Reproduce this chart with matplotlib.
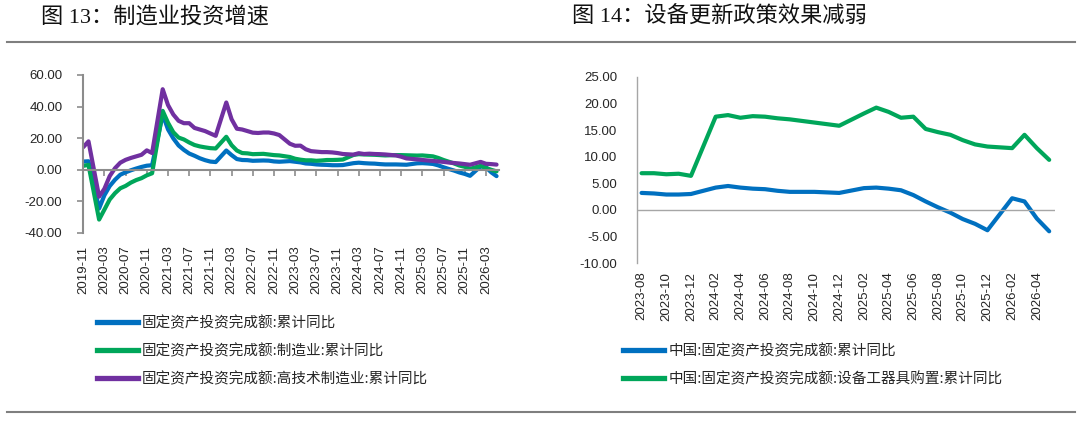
import matplotlib.pyplot as plt
from matplotlib.lines import Line2D

plt.rcParams['font.family'] = ['Liberation Sans', 'Noto Sans CJK SC']

# ---- 图13 data (cumulative YoY, %, no January figures) ----
months13 = ['2019-11', '2019-12',
            '2020-02', '2020-03', '2020-04', '2020-05', '2020-06', '2020-07', '2020-08', '2020-09', '2020-10', '2020-11', '2020-12',
            '2021-02', '2021-03', '2021-04', '2021-05', '2021-06', '2021-07', '2021-08', '2021-09', '2021-10', '2021-11', '2021-12',
            '2022-02', '2022-03', '2022-04', '2022-05', '2022-06', '2022-07', '2022-08', '2022-09', '2022-10', '2022-11', '2022-12',
            '2023-02', '2023-03', '2023-04', '2023-05', '2023-06', '2023-07', '2023-08', '2023-09', '2023-10', '2023-11', '2023-12',
            '2024-02', '2024-03', '2024-04', '2024-05', '2024-06', '2024-07', '2024-08', '2024-09', '2024-10', '2024-11', '2024-12',
            '2025-02', '2025-03', '2025-04', '2025-05', '2025-06', '2025-07', '2025-08', '2025-09', '2025-10', '2025-11', '2025-12',
            '2026-02', '2026-03', '2026-04', '2026-05']

fai = [5.2, 5.4,
       -24.5, -16.1, -10.3, -6.3, -3.1, -1.6, -0.3, 0.8, 1.8, 2.6, 2.9,
       35.0, 25.6, 19.9, 15.4, 12.6, 10.3, 8.9, 7.3, 6.1, 5.2, 4.9,
       12.2, 9.3, 6.8, 6.2, 6.1, 5.7, 5.8, 5.9, 5.8, 5.3, 5.1,
       5.5, 5.1, 4.7, 4.0, 3.8, 3.4, 3.2, 3.1, 2.9, 2.9, 3.0,
       4.2, 4.5, 4.2, 4.0, 3.9, 3.6, 3.4, 3.4, 3.4, 3.3, 3.2,
       4.1, 4.2, 4.0, 3.7, 2.8, 1.6, 0.5, -0.5, -1.7, -2.6, -3.8,
       2.2, 1.6, -1.6, -4.0]

mfg = [2.5, 3.1,
       -31.5, -25.2, -18.8, -14.8, -11.7, -10.2, -8.1, -6.5, -5.3, -3.5, -2.2,
       37.3, 29.8, 23.8, 20.4, 19.2, 17.3, 15.7, 14.8, 14.2, 13.7, 13.5,
       20.9, 15.6, 12.2, 10.6, 10.4, 9.9, 10.0, 10.1, 9.7, 9.3, 9.1,
       8.1, 7.0, 6.4, 6.0, 6.0, 5.7, 5.9, 6.2, 6.2, 6.3, 6.5,
       9.4, 9.9, 9.7, 9.6, 9.5, 9.3, 9.1, 9.2, 9.3, 9.3, 9.2,
       9.0, 9.1, 8.8, 8.5, 7.5, 6.2, 5.1, 4.0, 2.7, 1.9, 0.6,
       2.5, 1.2, 0.0, -1.0]

hitech = [14.3, 18.0,
          -17.0, -12.0, -4.0, 1.0, 4.5, 6.3, 7.5, 8.5, 9.5, 12.3, 10.6,
          51.0, 41.0, 35.0, 31.0, 29.5, 29.5, 26.5, 25.5, 24.5, 23.0, 21.5,
          42.6, 32.0, 26.0, 25.5, 24.5, 23.5, 23.3, 23.6, 23.6, 23.0, 22.0,
          16.5, 15.2, 15.3, 13.0, 11.8, 11.5, 11.2, 11.2, 11.0, 10.6, 10.0,
          9.6, 10.5, 10.0, 10.2, 10.0, 9.9, 9.7, 9.4, 9.1, 8.3, 7.2,
          6.6, 6.2, 5.9, 5.6, 5.3, 5.0, 4.6, 4.3, 4.0, 3.6, 3.2,
          5.0, 3.8, 3.6, 3.3]

labels13 = ['固定资产投资完成额:累计同比',
            '固定资产投资完成额:制造业:累计同比',
            '固定资产投资完成额:高技术制造业:累计同比']

ticks13 = ['2019-11', '2020-03', '2020-07', '2020-11', '2021-03', '2021-07', '2021-11',
           '2022-03', '2022-07', '2022-11', '2023-03', '2023-07', '2023-11', '2024-03',
           '2024-07', '2024-11', '2025-03', '2025-07', '2025-11', '2026-03']

# ---- 图14 data ----
months14 = months13[months13.index('2023-08'):]
fai14 = fai[months13.index('2023-08'):]
equip = [6.9, 6.9, 6.7, 6.8, 6.4,
         17.5, 17.8, 17.3, 17.6, 17.5, 17.2, 17.0, 16.7, 16.4, 16.1, 15.8,
         18.1, 19.2, 18.4, 17.3, 17.5, 15.2, 14.6, 14.1, 13.1, 12.3, 11.9,
         11.6, 14.1, 11.6, 9.4]

labels14 = ['中国:固定资产投资完成额:累计同比',
            '中国:固定资产投资完成额:设备工器具购置:累计同比']

ticks14 = ['2023-08', '2023-10', '2023-12', '2024-02', '2024-04', '2024-06', '2024-08',
           '2024-10', '2024-12', '2025-02', '2025-04', '2025-06', '2025-08', '2025-10',
           '2025-12', '2026-02', '2026-04']

BLUE = '#0070C0'
GREEN = '#00A65A'
PURPLE = '#7030A0'
AXC = '#8C8C8C'
TXT = '#262626'
FS = 9.5


def midx(s, y0, m0):
    y, m = map(int, s.split('-'))
    return (y - y0) * 12 + (m - m0)


fig = plt.figure(figsize=(10.8, 4.34), dpi=100)

# ---------------- left chart ----------------
ax1 = fig.add_axes([83.2 / 1080, 1 - 233 / 434, 416 / 1080, 158 / 434])
x13 = [midx(m, 2019, 11) for m in months13]
for vals, c in zip([fai, mfg, hitech], [BLUE, GREEN, PURPLE]):
    ax1.plot(x13, vals, color=c, lw=3, solid_joinstyle='round', solid_capstyle='round')
ax1.set_xlim(0, 78.5)
ax1.set_ylim(-40, 60)
yt = list(range(-40, 61, 20))
ax1.set_yticks(yt, ['%.2f' % v for v in yt])
ax1.spines['top'].set_visible(False)
ax1.spines['right'].set_visible(False)
ax1.spines['left'].set_color(AXC)
ax1.spines['left'].set_linewidth(1.5)
ax1.spines['bottom'].set_position(('data', 0))
ax1.spines['bottom'].set_color(AXC)
ax1.spines['bottom'].set_linewidth(1.5)
ax1.tick_params(axis='y', direction='out', length=4, width=1.2, color=AXC,
                pad=11, labelsize=FS, labelcolor=TXT)
t13 = [midx(t, 2019, 11) for t in ticks13]
ax1.set_xticks(t13)
ax1.tick_params(axis='x', direction='out', length=4, width=1.2, color=AXC, labelbottom=False)
sec = ax1.secondary_xaxis('bottom')
sec.set_xticks(t13, ticks13, rotation=90)
sec.tick_params(length=0, pad=9, labelsize=FS, labelcolor=TXT)
sec.spines['bottom'].set_visible(False)

# ---------------- right chart ----------------
ax2 = fig.add_axes([637 / 1080, 1 - 263.3 / 434, 418 / 1080, 186.6 / 434])
x14 = [midx(m, 2023, 8) for m in months14]
ax2.plot(x14, fai14, color=BLUE, lw=3, solid_joinstyle='round', solid_capstyle='round')
ax2.plot(x14, equip, color=GREEN, lw=3, solid_joinstyle='round', solid_capstyle='round')
ax2.axhline(0, color='#A6A6A6', lw=1)
ax2.set_xlim(-0.37, 33.47)
ax2.set_ylim(-10, 25)
yt2 = list(range(-10, 26, 5))
ax2.set_yticks(yt2, ['%.2f' % v for v in yt2])
for s in ['top', 'right', 'bottom']:
    ax2.spines[s].set_visible(False)
ax2.spines['left'].set_color('#A6A6A6')
ax2.spines['left'].set_linewidth(1)
ax2.set_xticks([midx(t, 2023, 8) for t in ticks14], ticks14, rotation=90)
ax2.tick_params(axis='both', length=0, labelsize=FS, labelcolor=TXT)
ax2.tick_params(axis='y', pad=14)
ax2.tick_params(axis='x', pad=6)

# ---------------- legends ----------------
lp = {'family': ['Noto Sans CJK SC'], 'size': 10.5}
h13 = [Line2D([], [], color=c, lw=3.8) for c in [BLUE, GREEN, PURPLE]]
fig.legend(h13, labels13, loc='center left', bbox_to_anchor=(97 / 1080, 1 - 351 / 434),
           frameon=False, borderpad=0, borderaxespad=0, handlelength=2.8,
           handletextpad=0.3, labelspacing=0.95, prop=lp, labelcolor=TXT)
h14 = [Line2D([], [], color=c, lw=3.8) for c in [BLUE, GREEN]]
fig.legend(h14, labels14, loc='center left', bbox_to_anchor=(623 / 1080, 1 - 365 / 434),
           frameon=False, borderpad=0, borderaxespad=0, handlelength=2.8,
           handletextpad=0.3, labelspacing=0.95, prop=lp, labelcolor=TXT)

# ---------------- titles and rules ----------------
tf = ['Liberation Serif', 'Noto Sans CJK SC']
fig.text(41 / 1080, 1 - 17 / 434, '图 13：制造业投资增速', fontsize=16, family=tf,
         va='center', ha='left', color='#111111')
fig.text(572 / 1080, 1 - 17 / 434, '图 14：设备更新政策效果减弱', fontsize=16, family=tf,
         va='center', ha='left', color='#111111')
for yy in [42, 411.5]:
    fig.add_artist(Line2D([7 / 1080, 1075 / 1080], [1 - yy / 434] * 2,
                          transform=fig.transFigure, color='#7F7F7F', lw=1.5))

fig.savefig('out.png', dpi=100)
